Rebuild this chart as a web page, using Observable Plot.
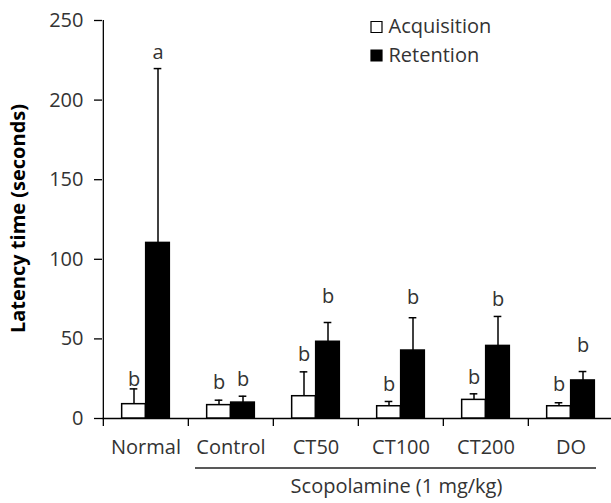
<!DOCTYPE html>
<html><head><meta charset="utf-8">
<script src="https://cdn.jsdelivr.net/npm/d3@7"></script>
<script src="https://cdn.jsdelivr.net/npm/@observablehq/plot@0.6"></script>
<style>html,body{margin:0;padding:0;background:#fff;overflow:hidden} svg{display:block}</style>
</head><body><div id="chart"></div>
<script>
const groups = ["Normal", "Control", "CT50", "CT100", "CT200", "DO"];
const series = ["Acquisition", "Retention"];
const acqMean = [9.0, 8.4, 14.0, 7.7, 11.7, 7.7];
const acqErr  = [9.6, 3.1, 15.3, 3.0, 3.8, 2.2];
const retMean = [110.3, 10.0, 48.2, 42.7, 45.6, 23.9];
const retErr  = [109.5, 4.0, 12.1, 20.6, 18.5, 5.6];
const acqLetters = ["b", "b", "b", "b", "b", "b"];
const retLetters = ["a", "b", "b", "b", "b", "b"];
const acqLetterY = [24.5, 22.6, 40.2, 21.4, 25.8, 21.4];
const retLetterY = [230, 24.5, 76.8, 76.0, 74.7, 45.9];
const yTicks = [0, 50, 100, 150, 200, 250];
const yLabel = "Latency time (seconds)";
const groupLabel = "Scopolamine (1 mg/kg)";

const W = 611, H = 503, mL = 102, mR = -3, mT = 20, mB = 85;
const step = (W - mL - mR) / groups.length;
const half = step / 2;
const barW = 24;
const font = "'Open Sans', sans-serif";
const txt = "#333";
const fs = 20;

const acq = groups.map((g, i) => ({group: g, mean: acqMean[i], top: acqMean[i] + acqErr[i], letter: acqLetters[i], ly: acqLetterY[i]}));
const ret = groups.map((g, i) => ({group: g, mean: retMean[i], top: retMean[i] + retErr[i], letter: retLetters[i], ly: retLetterY[i]}));

const sw = 1.5;
function errMarks(data, off) {
  return [
    Plot.ruleX(data, {x: "group", y1: "mean", y2: "top", dx: off, stroke: "black", strokeWidth: sw}),
    Plot.tickY(data, {x: "group", y: "top", dx: off, insetLeft: half - 4, insetRight: half - 4, stroke: "black", strokeWidth: sw}),
    Plot.text(data, {x: "group", y: "ly", text: "letter", dx: off, fontSize: fs, fill: txt})
  ];
}

const plot = Plot.plot({
  width: W, height: H,
  marginLeft: mL, marginRight: mR, marginTop: mT, marginBottom: mB,
  style: {fontFamily: font, fontSize: fs + "px", color: "black", background: "#fff", overflow: "visible"},
  x: {domain: groups, padding: 0, axis: null},
  y: {domain: [0, 250], axis: null},
  marks: [
    Plot.axisY({ticks: yTicks, tickSize: 8, tickPadding: 11, label: null, fill: txt, fontSize: fs, strokeWidth: 1.3}),
    Plot.axisX({tickSize: 0, tickPadding: 21, label: null, fill: txt, fontSize: fs}),
    Plot.axisX({tickSize: 8, tickFormat: () => "", dx: -half, label: null, strokeWidth: 1.3}),
    Plot.ruleX([groups[0]], {dx: -half, stroke: "black", strokeWidth: 1.3}),
    Plot.ruleY([0], {stroke: "black", strokeWidth: 1.3}),
    ...errMarks(acq, -barW / 2),
    ...errMarks(ret, barW / 2),
    Plot.barY(acq, {x: "group", y: "mean", fill: "white", stroke: "black", strokeWidth: sw, insetLeft: half - barW, insetRight: half}),
    Plot.barY(ret, {x: "group", y: "mean", fill: "black", stroke: "black", strokeWidth: sw, insetLeft: half, insetRight: half - barW}),
    Plot.text([yLabel], {frameAnchor: "left", dx: -84, dy: -1, rotate: -90, textAnchor: "middle", lineAnchor: "middle", fontSize: 20, fontWeight: "bold", fill: "black"}),
    Plot.dot([series[0]], {frameAnchor: "top-left", dx: 376 - mL, dy: 26.5 - mT, symbol: "square", r: 6.2, fill: "white", stroke: "black", strokeWidth: 1.2}),
    Plot.dot([series[1]], {frameAnchor: "top-left", dx: 376 - mL, dy: 55 - mT, symbol: "square", r: 6.2, fill: "black", stroke: "black", strokeWidth: 1.2}),
    Plot.text([series[0]], {frameAnchor: "top-left", dx: 388 - mL, dy: 26.5 - mT, textAnchor: "start", lineAnchor: "middle", fontSize: fs, fill: txt}),
    Plot.text([series[1]], {frameAnchor: "top-left", dx: 388 - mL, dy: 55 - mT, textAnchor: "start", lineAnchor: "middle", fontSize: fs, fill: txt}),
    Plot.text([groupLabel], {frameAnchor: "bottom-left", dx: 396 - mL, dy: 68, textAnchor: "middle", lineAnchor: "middle", fontSize: fs, fill: txt})
  ]
});
document.getElementById("chart").appendChild(plot);

// underline spanning the scopolamine-treated groups
const xs = plot.scale("x");
const ys = plot.scale("y");
const x1 = xs.apply(groups[1]) + 7;
const x2 = xs.apply(groups[groups.length - 1]) + xs.bandwidth - 17;
const yLine = ys.apply(0) + 50;
d3.select(plot).append("line")
  .attr("x1", x1).attr("x2", x2).attr("y1", yLine).attr("y2", yLine)
  .attr("stroke", "#222").attr("stroke-width", 1.5);
</script>
</body></html>
